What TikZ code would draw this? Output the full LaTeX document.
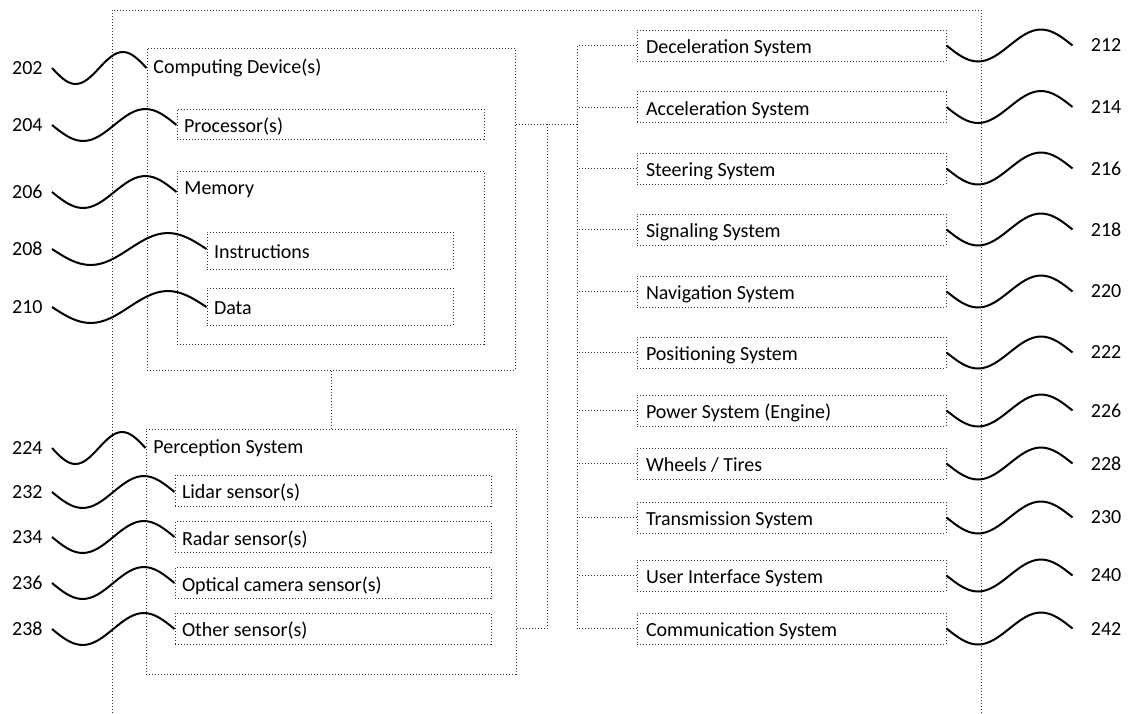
\documentclass[tikz,border=0pt]{standalone}
\usepackage{fontspec}
\setmainfont{Carlito}
\usetikzlibrary{calc}

\tikzset{
  wire/.style={draw=black!80, line width=0.5pt, dash pattern=on 0.5pt off 1pt},
  unitbox/.style={wire, align=flush left, text height=10.4pt, text depth=2pt, inner xsep=3.5pt, inner ysep=0pt},
  sysbox/.style={unitbox, text width=145.5pt, minimum height=15.5pt, inner xsep=4.5pt},
  refline/.style={line width=1pt},
  num/.style={inner xsep=4.5pt, inner ysep=0pt}
}

% wavy reference line from #1 to the box edge #2 (same height as #1)
\newcommand{\refwave}[2]{%
  \draw[refline] let \p1=(#1), \p2=(#2 |- #1), \n1={(\x2-\x1)/4} in
    (\p1) sin ++(\n1,-8pt) cos ++(\n1,8pt) sin ++(\n1,8pt) cos ++(\n1,-8pt);}

\begin{document}
\begin{tikzpicture}[x=0.5pt,y=-0.5pt]
    \useasboundingbox (0,0) rectangle (1128,713);
    % vehicle frame, open at the bottom
    \draw[wire] (112,713) -- (112,10) -- (981,10) -- (981,713);

    % computing device
    \node[wire, minimum width=184pt, minimum height=161pt] (cd) at (331,209) {};
    \node[anchor=west, inner sep=0pt] (cdt) at (153,68) {Computing Device(s)};
    \node[unitbox, text width=146.5pt, minimum height=15pt] (proc) at (330.5,124) {Processor(s)};
    \node[wire, minimum width=153.5pt, minimum height=86.5pt] (mem) at (330.5,257.5) {};
    \node[anchor=west, inner sep=0pt] (memt) at (184,190) {Memory};
    \node[unitbox, text width=116pt, minimum height=18.5pt] (ins) at (330,250.5) {Instructions};
    \node[unitbox, text width=116pt, minimum height=18.5pt] (data) at (330,306.5) {Data};

    % perception system
    \node[wire, minimum width=185pt, minimum height=122.5pt] (per) at (331,551.5) {};
    \node[anchor=west, inner sep=0pt] (pert) at (153,448) {Perception System};
    \node[unitbox, text width=151pt, minimum height=15.5pt] (lidar) at (333,490.5) {Lidar sensor(s)};
    \node[unitbox, text width=151pt, minimum height=15.5pt] (radar) at (333,537) {Radar sensor(s)};
    \node[unitbox, text width=151pt, minimum height=15.5pt] (optical) at (333,583) {Optical camera sensor(s)};
    \node[unitbox, text width=151pt, minimum height=15.5pt] (other) at (333,628.5) {Other sensor(s)};

    % vehicle systems
    \node[sysbox] (dec) at (791.5,45.5) {Deceleration System};
    \node[sysbox] (acc) at (791.5,107) {Acceleration System};
    \node[sysbox] (steer) at (791.5,168.5) {Steering System};
    \node[sysbox] (sig) at (791.5,229.5) {Signaling System};
    \node[sysbox] (nav) at (791.5,291.5) {Navigation System};
    \node[sysbox] (pos) at (791.5,352.5) {Positioning System};
    \node[sysbox] (pow) at (791.5,410.5) {Power System (Engine)};
    \node[sysbox] (whl) at (791.5,463.5) {Wheels / Tires};
    \node[sysbox] (trans) at (791.5,517.5) {Transmission System};
    \node[sysbox] (ui) at (791.5,575.5) {User Interface System};
    \node[sysbox] (com) at (791.5,628.5) {Communication System};

    % bus
    \coordinate (bus) at (577,0);
    \coordinate (tap) at (547,124);
    \draw[wire] (dec.west -| bus) -- (com.west -| bus);
    \foreach \s in {dec,acc,steer,sig,nav,pos,pow,whl,trans,ui,com}
        \draw[wire] (\s.west) -- (\s.west -| bus);
    \draw[wire] (cd.east |- proc) -- (proc -| bus);
    \draw[wire] (per.east |- other) -| (tap);
    \draw[wire] (cd.south) -- (per.north);

    % reference numerals
    \foreach \k/\y/\b in {202/68/cd,204/125/proc,206/192/mem,208/249/ins,210/307/data,
                          224/448/per,232/492/lidar,234/537/radar,236/583/optical,238/629/other} {
        \node[num, anchor=east] (l\k) at (52,\y) {\k};
        \refwave{l\k.east}{\b.west}
    }
    \foreach \s/\k in {dec/212,acc/214,steer/216,sig/218,nav/220,pos/222,
                       pow/226,whl/228,trans/230,ui/240,com/242} {
        \node[num, inner xsep=9pt, anchor=west] (l\k) at ([xshift=63pt]\s.east) {\k};
        \refwave{\s.east}{l\k.west}
    }
\end{tikzpicture}
\end{document}
